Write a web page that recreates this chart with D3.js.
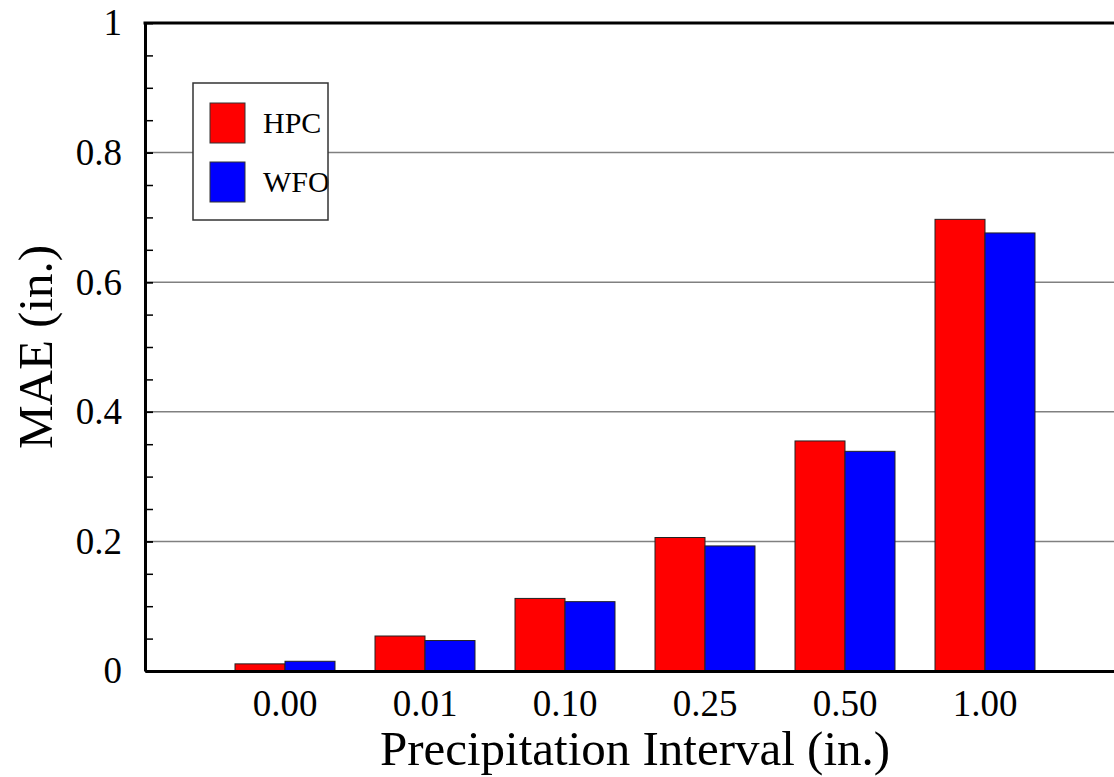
<!DOCTYPE html>
<html>
<head>
<meta charset="utf-8">
<title>MAE by Precipitation Interval</title>
<style>
  body { margin: 0; background: #fff; }
  text { font-family: "Liberation Serif", "Times New Roman", serif; fill: #000; }
</style>
</head>
<body>
<div class="chart"></div>
<script src="https://d3js.org/d3.v7.min.js"></script>
<script>
// data
var categories = ["0.00", "0.01", "0.10", "0.25", "0.50", "1.00"];
var seriesNames = ["HPC", "WFO"];
var seriesColors = ["#ff0000", "#0000ff"];
var hpcValues = [0.011, 0.054, 0.112, 0.206, 0.355, 0.697];
var wfoValues = [0.015, 0.047, 0.107, 0.193, 0.339, 0.676];
var yTicks = [0, 0.2, 0.4, 0.6, 0.8, 1];
var yMinorTicks = [0, 0.05, 0.1, 0.15, 0.2, 0.25, 0.3, 0.35, 0.4, 0.45, 0.5,
                   0.55, 0.6, 0.65, 0.7, 0.75, 0.8, 0.85, 0.9, 0.95, 1];

var w = 1114, h = 777;
// plot frame (right edge runs past the window, as in the reference)
var pLeft = 145, pTop = 23, pBottom = 671, pRight = 1125;

var svg = d3.select("div.chart").append("svg")
  .attr("width", w)
  .attr("height", h);

var x = d3.scaleBand()
  .domain(categories)
  .range([pLeft, pRight])
  .paddingInner(2 / 7)
  .paddingOuter(9 / 14);

var xSub = d3.scaleBand()
  .domain(seriesNames)
  .range([0, x.bandwidth()]);

var y = d3.scaleLinear()
  .domain([0, 1])
  .range([pBottom, pTop]);

var color = d3.scaleOrdinal().domain(seriesNames).range(seriesColors);

var rows = categories.map(function (c, i) {
  return { cat: c, values: [
    { name: "HPC", value: hpcValues[i] },
    { name: "WFO", value: wfoValues[i] }
  ] };
});

/* grid lines */
svg.append("g").attr("class", "grid")
  .selectAll("line")
  .data(yTicks.filter(function (d) { return d > 0 && d < 1; }))
  .join("line")
  .attr("x1", pLeft).attr("x2", pRight)
  .attr("y1", function (d) { return y(d); })
  .attr("y2", function (d) { return y(d); })
  .attr("stroke", "#808080")
  .attr("stroke-width", 1.5);

/* bars */
svg.append("g").attr("class", "bars")
  .selectAll("g")
  .data(rows)
  .join("g")
  .attr("transform", function (d) { return "translate(" + x(d.cat) + ",0)"; })
  .selectAll("rect")
  .data(function (d) { return d.values; })
  .join("rect")
  .attr("x", function (d) { return xSub(d.name); })
  .attr("width", xSub.bandwidth())
  .attr("y", function (d) { return y(d.value); })
  .attr("height", function (d) { return y(0) - y(d.value); })
  .attr("fill", function (d) { return color(d.name); })
  .attr("stroke", "#222")
  .attr("stroke-width", 1);

/* minor ticks on y */
svg.append("g")
  .attr("transform", "translate(" + pLeft + ",0)")
  .call(d3.axisLeft(y).tickValues(yMinorTicks).tickSize(-8).tickFormat(""))
  .call(function (g) {
    g.select(".domain").remove();
    g.selectAll(".tick line").attr("stroke", "#000").attr("stroke-width", 1.5);
  });

/* y axis with labels */
svg.append("g")
  .attr("class", "y-axis")
  .attr("transform", "translate(" + pLeft + ",0)")
  .call(d3.axisLeft(y).tickValues(yTicks).tickSize(-8).tickSizeOuter(0)
    .tickPadding(23).tickFormat(d3.format("~g")))
  .call(function (g) {
    g.select(".domain").attr("stroke", "#000").attr("stroke-width", 3);
    g.selectAll(".tick line").attr("stroke", "#000").attr("stroke-width", 1.5);
    g.selectAll(".tick text")
      .attr("font-family", "Liberation Serif")
      .attr("font-size", 37);
  });

/* x axis */
svg.append("g")
  .attr("class", "x-axis")
  .attr("transform", "translate(0," + pBottom + ")")
  .call(d3.axisBottom(x).tickSize(0).tickSizeOuter(0).tickPadding(19))
  .call(function (g) {
    g.select(".domain").attr("stroke", "#000").attr("stroke-width", 3);
    g.selectAll(".tick text")
      .attr("font-family", "Liberation Serif")
      .attr("font-size", 37);
  });

/* top border */
svg.append("line")
  .attr("x1", pLeft - 1.5).attr("x2", pRight)
  .attr("y1", pTop).attr("y2", pTop)
  .attr("stroke", "#000").attr("stroke-width", 3);

/* axis titles */
svg.append("text")
  .attr("x", (pLeft + pRight) / 2)
  .attr("y", 765)
  .attr("text-anchor", "middle")
  .attr("font-size", 49)
  .text("Precipitation Interval (in.)");

svg.append("text")
  .attr("transform", "translate(52," + (pTop + pBottom) / 2 + ") rotate(-90)")
  .attr("text-anchor", "middle")
  .attr("font-size", 49)
  .text("MAE (in.)");

/* legend */
var legend = svg.append("g").attr("class", "legend")
  .attr("transform", "translate(193,83)");

legend.append("rect")
  .attr("width", 135).attr("height", 137)
  .attr("fill", "#fff");

var item = legend.selectAll("g.item")
  .data(seriesNames)
  .join("g")
  .attr("class", "item")
  .attr("transform", function (d, i) { return "translate(17," + (20 + i * 59) + ")"; });

item.append("rect")
  .attr("width", 35).attr("height", 40)
  .attr("fill", function (d) { return color(d); })
  .attr("stroke", "#333").attr("stroke-width", 1);

item.append("text")
  .attr("x", 53).attr("y", 30)
  .attr("font-size", 30)
  .text(function (d) { return d; });

legend.append("rect")
  .attr("width", 135).attr("height", 137)
  .attr("fill", "none")
  .attr("stroke", "#333").attr("stroke-width", 1.5);
</script>
</body>
</html>
